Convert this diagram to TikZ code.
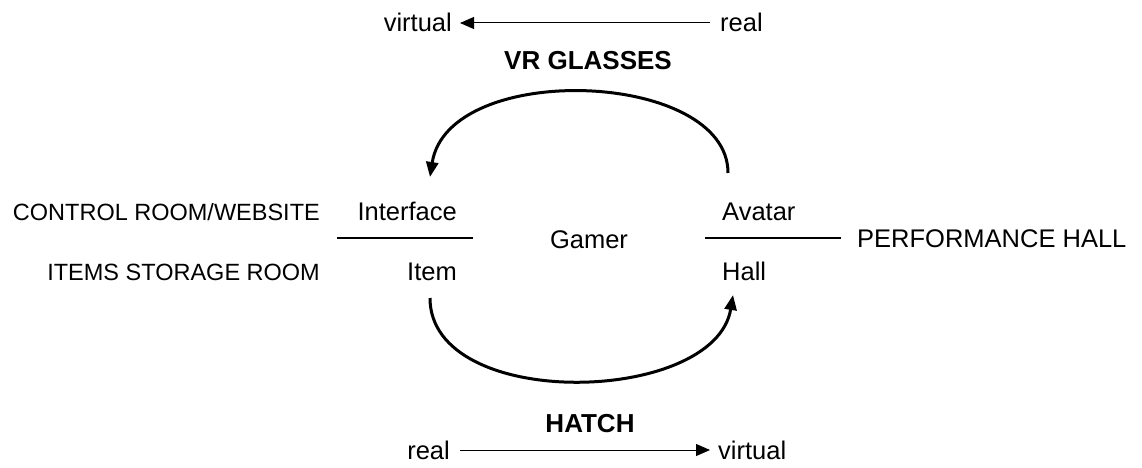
\documentclass[tikz,border=0pt]{standalone}
\usepackage{fontspec}
\setmainfont{Liberation Sans}
\usetikzlibrary{arrows.meta}
\begin{document}
\begin{tikzpicture}[x=1pt,y=-1pt,
  lbl/.style={inner sep=0pt,font=\fontsize{25.5}{30}\selectfont},
  slbl/.style={inner sep=0pt,font=\fontsize{23.5}{28}\selectfont},
  blbl/.style={inner sep=0pt,font=\fontsize{26}{30}\selectfont\bfseries},
  flowline/.style={line width=1pt,-{Triangle[length=14pt,width=12pt]}},
  arcline/.style={line width=3pt,-{Triangle[length=15pt,width=12pt]}},
  divider/.style={line width=2pt}]
\fill[white] (0,0) rectangle (1142,468);
\useasboundingbox (0,0) rectangle (1142,468);
% top
\node[lbl,anchor=base east] (vtop) at (452,32) {virtual};
\node[lbl,anchor=base west] (rtop) at (720,32) {real};
\coordinate (vtip) at (460,23);
\coordinate (rstart) at (710,23);
\draw[flowline] (rstart) -- (vtip);
\node[blbl,anchor=base] (vrg) at (588,70) {VR GLASSES};
% middle labels
\node[slbl,anchor=base east] (ctrl) at (320,220) {CONTROL ROOM/WEBSITE};
\node[slbl,anchor=base east] (store) at (320,280) {ITEMS STORAGE ROOM};
\node[lbl,anchor=base east] (iface) at (457,220) {Interface};
\node[lbl,anchor=base east] (item) at (457,280) {Item};
\node[lbl,anchor=base] (gamer) at (589,248) {Gamer};
\node[lbl,anchor=base west] (avatar) at (722,220) {Avatar};
\node[lbl,anchor=base west] (hall) at (722,280) {Hall};
\node[lbl,anchor=base west] (perf) at (857,247) {PERFORMANCE HALL};
% dividers
\coordinate (l1) at (337,238); \coordinate (l2) at (473,238);
\coordinate (r1) at (705,238); \coordinate (r2) at (841,238);
\draw[divider] (l1) -- (l2);
\draw[divider] (r1) -- (r2);
% arcs
\coordinate (avtop) at (728,173);
\coordinate (iftop) at (430,177);
\coordinate (itbot) at (430,298);
\coordinate (hlbot) at (733,295);
\draw[arcline] (avtop) .. controls (728,70) and (448,60) .. (iftop);
\draw[arcline] (itbot) .. controls (430,412) and (715,405) .. (hlbot);
% bottom
\node[blbl,anchor=base] (hatch) at (590,432) {HATCH};
\node[lbl,anchor=base east] (rbot) at (450,459) {real};
\node[lbl,anchor=base west] (vbot) at (718,459) {virtual};
\coordinate (rbstart) at (460,450);
\coordinate (vbtip) at (710,450);
\draw[flowline] (rbstart) -- (vbtip);
\end{tikzpicture}
\end{document}
